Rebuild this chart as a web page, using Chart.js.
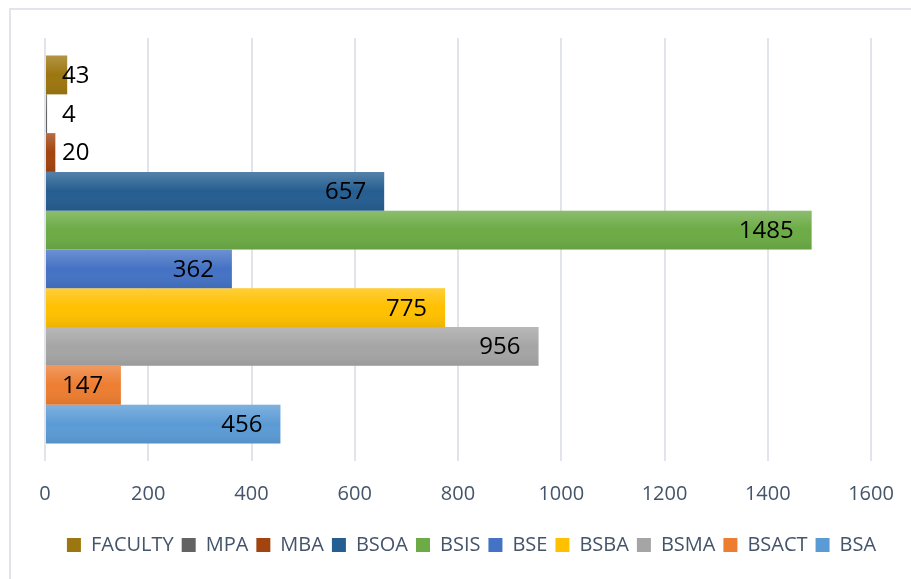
<!DOCTYPE html>
<html>
<head>
<meta charset="utf-8">
<script src="https://cdn.jsdelivr.net/npm/chart.js@4"></script>
<style>
  html, body { margin: 0; padding: 0; background: #fff; }
  #wrap { position: relative; width: 911px; height: 579px; overflow: hidden; }
  #frame { position: absolute; left: 9px; top: 8px; width: 1000px; height: 700px;
           border-left: 2px solid #e1e5eb; border-top: 2px solid #e1e5eb; }
  canvas { position: absolute; left: 0; top: 0; }
</style>
</head>
<body>
<div id="wrap">
  <div id="frame"></div>
  <canvas id="chart" width="911" height="579"></canvas>
</div>
<script>
// series, top to bottom (legend order)
const programs = ['FACULTY', 'MPA', 'MBA', 'BSOA', 'BSIS', 'BSE', 'BSBA', 'BSMA', 'BSACT', 'BSA'];
const counts = [43, 4, 20, 657, 1485, 362, 775, 956, 147, 456];
const colors = ['#9c7610', '#636363', '#a2440f', '#255e91', '#6cab45', '#4472c4', '#ffc000', '#a5a5a5', '#ed7d31', '#5b9bd5'];
const xTicks = [0, 200, 400, 600, 800, 1000, 1200, 1400, 1600];

const FONT = "'Open Sans', 'Noto Sans', sans-serif";

// excel-ish shading + data labels
const barExtras = {
  id: 'barExtras',
  afterDatasetsDraw(chart) {
    const ctx = chart.ctx;
    const metas = chart.getSortedVisibleDatasetMetas();
    metas.forEach(meta => {
      meta.data.forEach(el => {
        const p = el.getProps(['x', 'y', 'base', 'height'], true);
        const top = p.y - p.height / 2;
        const g = ctx.createLinearGradient(0, top, 0, top + p.height);
        g.addColorStop(0, 'rgba(255,255,255,0.22)');
        g.addColorStop(0.5, 'rgba(255,255,255,0)');
        g.addColorStop(1, 'rgba(0,0,0,0.07)');
        ctx.save();
        ctx.fillStyle = g;
        ctx.fillRect(p.base, top, p.x - p.base, p.height);
        ctx.restore();
      });
    });
    ctx.save();
    ctx.font = '24px ' + FONT;
    ctx.fillStyle = '#000';
    ctx.textBaseline = 'middle';
    ctx.textAlign = 'left';
    metas.forEach(meta => {
      meta.data.forEach((el, i) => {
        const p = el.getProps(['x', 'y', 'base'], true);
        const txt = String(chart.data.datasets[meta.index].data[i]);
        const w = ctx.measureText(txt).width;
        const x = Math.max(p.x - 18 - w, p.base + 16);
        ctx.fillText(txt, x, p.y + 1);
      });
    });
    ctx.restore();
  }
};

// invisible axis used only as a fixed-width spacer
const spacer = w => ({
  display: true,
  grid: { display: false, drawTicks: false },
  border: { display: false },
  ticks: { display: false },
  afterFit: s => { s.width = w; }
});

new Chart(document.getElementById('chart'), {
  type: 'bar',
  data: {
    labels: [''],
    datasets: programs.map((name, i) => ({
      label: name,
      data: [counts[i]],
      backgroundColor: colors[i],
      borderWidth: 0,
      barPercentage: 1,
      categoryPercentage: 0.917
    }))
  },
  options: {
    indexAxis: 'y',
    responsive: false,
    animation: false,
    layout: { padding: { left: 32, right: 0, top: 38, bottom: 14 } },
    plugins: {
      tooltip: { enabled: false },
      legend: {
        position: 'bottom',
        labels: {
          boxWidth: 14,
          boxHeight: 14,
          padding: 8,
          color: '#44546a',
          font: { family: FONT, size: 20 }
        }
      }
    },
    scales: {
      x: {
        min: 0,
        max: 1600,
        afterBuildTicks: axis => { axis.ticks = xTicks.map(v => ({ value: v })); },
        afterFit: s => { s.paddingLeft = 0; s.paddingRight = 0; },
        grid: { color: '#e1e5eb', lineWidth: 2, drawTicks: false },
        border: { display: false },
        ticks: { color: '#44546a', padding: 21, font: { family: FONT, size: 20 }, callback: v => String(v) }
      },
      y: Object.assign({ position: 'left' }, spacer(13)),
      y2: Object.assign({ position: 'right', type: 'linear' }, spacer(40))
    }
  },
  plugins: [barExtras]
});
</script>
</body>
</html>
